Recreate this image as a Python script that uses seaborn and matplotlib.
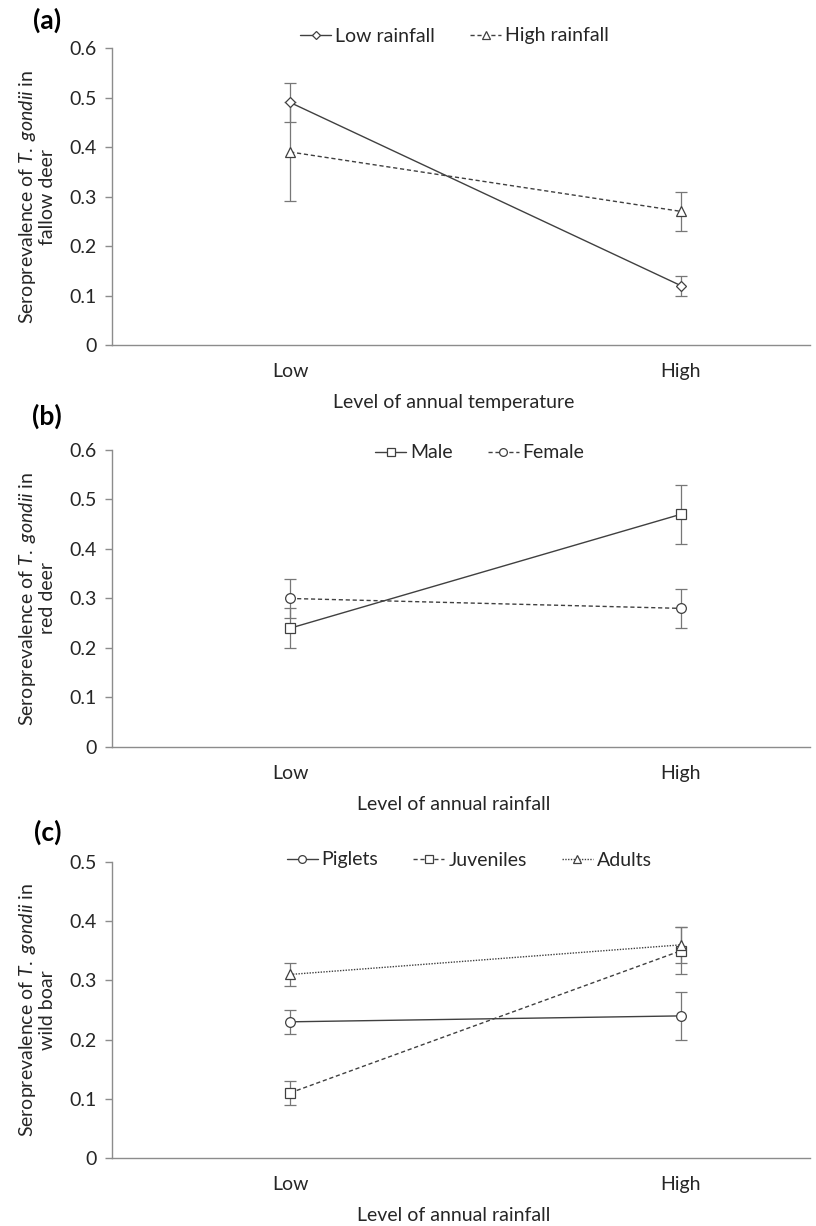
import matplotlib
matplotlib.use("Agg")
import pandas as pd
import matplotlib.pyplot as plt
import seaborn as sns

# category levels on every x axis
levels = ["Low", "High"]

# (a) fallow deer by annual temperature
fallow_groups = ["Low rainfall", "High rainfall"]
fallow_vals = [[0.49, 0.12], [0.39, 0.27]]
fallow_err = [[0.04, 0.02], [0.10, 0.04]]

# (b) red deer by annual rainfall
red_groups = ["Male", "Female"]
red_vals = [[0.24, 0.47], [0.30, 0.28]]
red_err = [[0.04, 0.06], [0.04, 0.04]]

# (c) wild boar by annual rainfall
boar_groups = ["Piglets", "Juveniles", "Adults"]
boar_vals = [[0.23, 0.24], [0.11, 0.35], [0.31, 0.36]]
boar_err = [[0.02, 0.04], [0.02, 0.04], [0.02, 0.03]]

sns.set_style("white")
plt.rcParams["font.family"] = ["Lato", "DejaVu Sans"]
plt.rcParams["mathtext.fontset"] = "custom"
plt.rcParams["mathtext.rm"] = "Lato"
plt.rcParams["mathtext.it"] = "Lato:italic"

LINE = "#404040"
ERR = "#777777"
AXC = "#8c8c8c"
TXT = "#262626"
FS = 14

fig = plt.figure(figsize=(8.16, 12.26), dpi=100)


def panel(rect, groups, vals, errs, markers, dashes, ymax, xlabel, animal,
          leg_xy, tag, tag_y):
    ax = fig.add_axes(rect)
    rows = []
    for g, vs in zip(groups, vals):
        for i, v in enumerate(vs):
            rows.append({"group": g, "pos": i, "value": v})
    df = pd.DataFrame(rows)
    sns.lineplot(data=df, x="pos", y="value", hue="group", style="group",
                 hue_order=groups, style_order=groups,
                 palette=[LINE] * len(groups),
                 markers=dict(zip(groups, markers)),
                 dashes=dict(zip(groups, dashes)),
                 markersize=7, markerfacecolor="white",
                 markeredgecolor=LINE, markeredgewidth=0.9,
                 linewidth=1.0, legend=False, ax=ax, zorder=3)
    handles = list(ax.get_lines())[:len(groups)]
    for h, m in zip(handles, markers):
        if m == "D":
            h.set_markersize(5.5)
    for vs, es in zip(vals, errs):
        ax.errorbar(range(len(levels)), vs, yerr=es, fmt="none",
                    ecolor=ERR, elinewidth=0.9, capsize=4, capthick=0.9,
                    zorder=2)
    ax.set_xlim(-0.456, 1.33)
    ax.set_ylim(0, ymax)
    n = int(round(ymax * 10))
    ax.set_yticks([i / 10 for i in range(n + 1)])
    ax.set_yticklabels(["0"] + [f"{i / 10:.1f}" for i in range(1, n + 1)])
    ax.set_xticks(range(len(levels)))
    ax.set_xticklabels(levels)
    ax.tick_params(axis="x", length=0, pad=13, labelsize=FS, colors=TXT)
    ax.tick_params(axis="y", length=5, width=1, color=AXC, direction="out",
                   left=True, pad=6, labelsize=FS, labelcolor=TXT)
    for s in ["top", "right"]:
        ax.spines[s].set_visible(False)
    for s in ["left", "bottom"]:
        ax.spines[s].set_color(AXC)
        ax.spines[s].set_linewidth(1.0)
    ax.set_xlabel(xlabel, fontsize=FS, color=TXT)
    ax.xaxis.set_label_coords(0.49, -0.165)
    ax.set_ylabel("Seroprevalence of $\\it{T.\\ gondii}$ in\n" + animal,
                  fontsize=FS, color=TXT, linespacing=1.1)
    ax.yaxis.set_label_coords(-0.08, 0.5)
    leg = ax.legend(handles, groups, loc="center", bbox_to_anchor=leg_xy,
                    bbox_transform=fig.transFigure, ncol=len(groups),
                    frameon=False, fontsize=FS, handlelength=1.6,
                    handletextpad=0.2, columnspacing=1.8, numpoints=1,
                    markerscale=0.8)
    fig.text(0.058, tag_y, tag, fontsize=19, fontweight="bold",
             ha="center", va="center", color="black")
    return ax


panel([0.1373, 0.7186, 0.855, 0.2422], fallow_groups, fallow_vals,
      fallow_err, ["D", "^"], ["", (3, 2)], 0.6,
      "Level of annual temperature", "fallow deer",
      (0.557, 1 - 36 / 1226), "(a)", 1 - 20 / 1226)

panel([0.1373, 0.3907, 0.855, 0.2423], red_groups, red_vals, red_err,
      ["s", "o"], ["", (3, 2)], 0.6,
      "Level of annual rainfall", "red deer",
      (0.588, 1 - 453 / 1226), "(b)", 1 - 416 / 1226)

panel([0.1373, 0.0555, 0.855, 0.2414], boar_groups, boar_vals, boar_err,
      ["o", "s", "^"], ["", (3, 2), (1, 1)], 0.5,
      "Level of annual rainfall", "wild boar",
      (0.575, 1 - 860 / 1226), "(c)", 1 - 832 / 1226)

fig.savefig("out.png", dpi=100)
